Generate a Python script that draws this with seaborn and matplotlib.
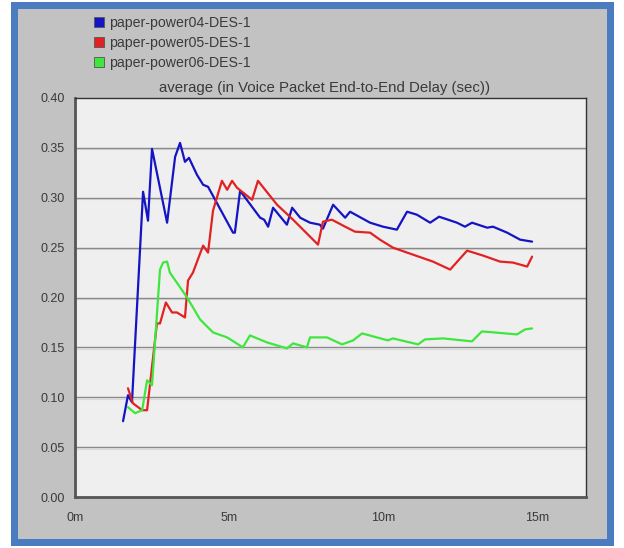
import numpy as np
import pandas as pd
import matplotlib
matplotlib.use("Agg")
import matplotlib.pyplot as plt
from matplotlib.lines import Line2D
from matplotlib.patches import Rectangle
import seaborn as sns

# --- data (time in minutes, delay in sec) ---
t_04 = [1.56, 1.72, 1.85, 2.21, 2.37, 2.50, 2.99, 3.25, 3.41, 3.57, 3.70, 3.96, 4.16,
        4.32, 5.13, 5.19, 5.36, 6.01, 6.14, 6.27, 6.43, 6.88, 7.05, 7.31, 7.63, 7.95,
        8.05, 8.38, 8.77, 8.93, 9.58, 10.0, 10.45, 10.78, 11.10, 11.53, 11.82, 12.40,
        12.66, 12.89, 13.38, 13.57, 14.03, 14.45, 14.84]
v_04 = [0.076, 0.102, 0.095, 0.306, 0.277, 0.349, 0.275, 0.341, 0.355, 0.336, 0.340,
        0.323, 0.313, 0.311, 0.265, 0.265, 0.307, 0.280, 0.278, 0.271, 0.290, 0.273,
        0.290, 0.280, 0.275, 0.273, 0.269, 0.293, 0.280, 0.286, 0.275, 0.271, 0.268,
        0.286, 0.283, 0.275, 0.281, 0.275, 0.271, 0.275, 0.270, 0.271, 0.265, 0.258,
        0.256]

t_05 = [1.72, 1.88, 2.18, 2.34, 2.66, 2.76, 2.95, 3.15, 3.31, 3.57, 3.67, 3.83, 4.06,
        4.16, 4.32, 4.48, 4.77, 4.94, 5.10, 5.26, 5.75, 5.94, 6.56, 7.08, 7.89, 8.05,
        8.34, 8.77, 9.09, 9.58, 9.90, 10.32, 10.97, 11.62, 12.18, 12.73, 13.25, 13.80,
        14.22, 14.68, 14.84]
v_05 = [0.109, 0.094, 0.087, 0.087, 0.174, 0.174, 0.195, 0.185, 0.185, 0.180, 0.217,
        0.225, 0.244, 0.252, 0.245, 0.287, 0.317, 0.308, 0.317, 0.310, 0.298, 0.317,
        0.293, 0.278, 0.253, 0.276, 0.278, 0.271, 0.266, 0.265, 0.258, 0.250, 0.243,
        0.236, 0.228, 0.247, 0.242, 0.236, 0.235, 0.231, 0.241]

t_06 = [1.72, 1.95, 2.18, 2.34, 2.50, 2.76, 2.86, 2.99, 3.08, 3.64, 4.06, 4.48, 4.94,
        5.45, 5.68, 6.23, 6.88, 7.08, 7.53, 7.63, 8.18, 8.67, 9.03, 9.32, 10.16, 10.32,
        11.14, 11.36, 11.95, 12.89, 13.21, 14.35, 14.61, 14.84]
v_06 = [0.090, 0.084, 0.087, 0.117, 0.112, 0.228, 0.235, 0.236, 0.225, 0.200, 0.178,
        0.165, 0.160, 0.150, 0.162, 0.155, 0.149, 0.154, 0.150, 0.160, 0.160, 0.153,
        0.157, 0.164, 0.157, 0.159, 0.153, 0.158, 0.159, 0.156, 0.166, 0.163, 0.168,
        0.169]

series_names = ["paper-power04-DES-1", "paper-power05-DES-1", "paper-power06-DES-1"]
series_colors = ["#1414c4", "#e22222", "#3ee63e"]
y_ticks = [0.00, 0.05, 0.10, 0.15, 0.20, 0.25, 0.30, 0.35, 0.40]
x_ticks = [0, 5, 10, 15]
x_labels = ["0m", "5m", "10m", "15m"]
title = "average (in Voice Packet End-to-End Delay (sec))"

df = pd.concat([
    pd.DataFrame({"time": t_04, "delay": v_04, "run": series_names[0]}),
    pd.DataFrame({"time": t_05, "delay": v_05, "run": series_names[1]}),
    pd.DataFrame({"time": t_06, "delay": v_06, "run": series_names[2]}),
], ignore_index=True)

sns.set_style("white")
plt.rcParams["font.family"] = ["Liberation Sans", "DejaVu Sans"]
txt = "#3a3a3a"

fig = plt.figure(figsize=(6.24, 5.48), dpi=100)
fig.patch.set_facecolor("white")

# window frame: blue border + gray panel
fig.patches.append(Rectangle((11 / 624, 2 / 548), 603 / 624, 544 / 548,
                             transform=fig.transFigure, facecolor="#4a7cbf",
                             edgecolor="none", zorder=-3))
fig.patches.append(Rectangle((18 / 624, 9 / 548), 589 / 624, 530 / 548,
                             transform=fig.transFigure, facecolor="#c2c2c2",
                             edgecolor="none", zorder=-2))

ax = fig.add_axes([75 / 624, 51 / 548, 511 / 624, 399 / 548])
ax.set_facecolor("#efefef")

sns.lineplot(data=df, x="time", y="delay", hue="run", palette=series_colors,
             hue_order=series_names, linewidth=1.6, legend=False, ax=ax,
             sort=False, estimator=None)

ax.set_xlim(0, 16.59)
ax.set_ylim(0, 0.40)
ax.set_yticks(y_ticks)
ax.set_yticklabels([f"{v:.2f}" for v in y_ticks])
ax.set_xticks(x_ticks)
ax.set_xticklabels(x_labels)
ax.set_xticks([2.5, 7.5, 12.5], minor=True)
ax.set_xlabel("")
ax.set_ylabel("")

for v in y_ticks[1:-1]:
    ax.axhline(v, color="#8a8a8a", lw=1.0, zorder=0.5)
    ax.axhline(v - 0.0016, color="#dadada", lw=0.8, zorder=0.4)

ax.tick_params(axis="both", which="both", direction="out", colors="#444444",
               labelcolor=txt, labelsize=9, length=4, width=1)
ax.tick_params(axis="x", pad=7)
for side in ["top", "right"]:
    ax.spines[side].set_color("#333333")
    ax.spines[side].set_linewidth(1.0)
for side in ["left", "bottom"]:
    ax.spines[side].set_color("#555555")
    ax.spines[side].set_linewidth(2.0)

fig.text(325 / 624, 1 - 88 / 548, title, ha="center", va="center",
         fontsize=10.8, color=txt)

handles = [Line2D([], [], marker="s", ls="", markersize=7.5, markerfacecolor=c,
                  markeredgecolor="#555555", markeredgewidth=0.6)
           for c in series_colors]
fig.legend(handles, series_names, loc="upper left",
           bbox_to_anchor=(86 / 624, 1 - 10 / 548), frameon=False,
           fontsize=10.2, labelcolor=txt, handletextpad=0.2, labelspacing=0.42,
           borderaxespad=0, handlelength=1.0)

fig.savefig("out.png", dpi=100)
